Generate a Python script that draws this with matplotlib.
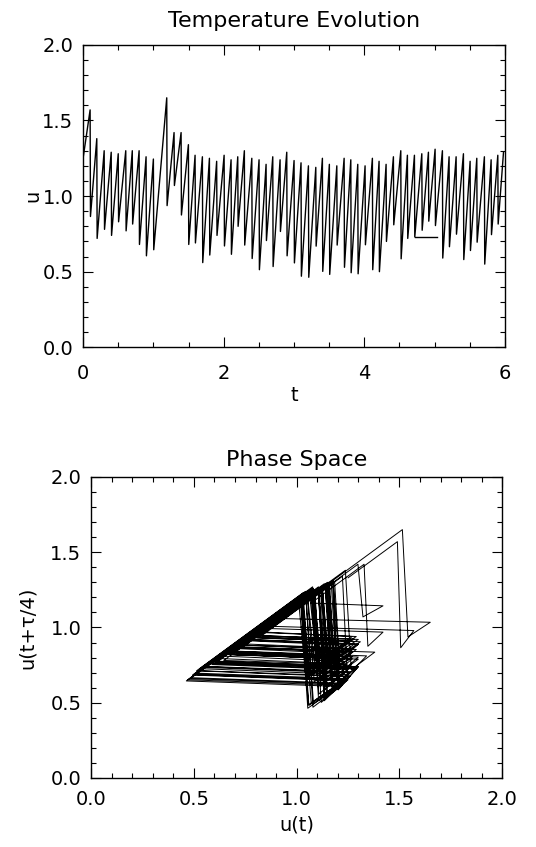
import numpy as np
import matplotlib.pyplot as plt
from matplotlib.ticker import MultipleLocator, FormatStrFormatter

# values
t_start, u_start = 0.0, 1.25
t_end, u_end = 5.98, 1.29

t_peak = [0.10, 0.195, 0.30, 0.40, 0.50, 0.607, 0.70, 0.797, 0.896, 1.00,
          1.19, 1.294, 1.394, 1.498, 1.593, 1.697, 1.797, 1.90, 2.006,
          2.105, 2.20, 2.294, 2.40, 2.503, 2.603, 2.698, 2.802, 2.897, 3.001,
          3.10, 3.205, 3.31, 3.404, 3.503, 3.609, 3.713, 3.808, 3.907, 4.011,
          4.115, 4.21, 4.31, 4.414, 4.519, 4.613, 4.713, 4.818, 4.912, 5.007,
          5.111, 5.206, 5.306, 5.41, 5.505, 5.60, 5.708, 5.804, 5.899]
u_peak = [1.57, 1.38, 1.30, 1.29, 1.28, 1.30, 1.30, 1.30, 1.26, 1.245,
          1.65, 1.42, 1.42, 1.34, 1.27, 1.26, 1.25, 1.23, 1.27,
          1.24, 1.26, 1.30, 1.25, 1.24, 1.21, 1.26, 1.24, 1.29, 1.235,
          1.22, 1.20, 1.19, 1.25, 1.21, 1.20, 1.25, 1.24, 1.21, 1.20,
          1.25, 1.23, 1.21, 1.26, 1.30, 1.27, 1.27, 1.28, 1.29, 1.31,
          1.30, 1.26, 1.26, 1.28, 1.23, 1.25, 1.26, 1.24, 1.27]
t_trough = [0.105, 0.20, 0.305, 0.405, 0.505, 0.612, 0.705, 0.802, 0.901, 1.005,
            1.195, 1.299, 1.399, 1.503, 1.598, 1.702, 1.802, 1.905, 2.011,
            2.11, 2.205, 2.299, 2.405, 2.508, 2.608, 2.703, 2.807, 2.902, 3.006,
            3.105, 3.21, 3.315, 3.409, 3.508, 3.614, 3.718, 3.813, 3.912, 4.016,
            4.12, 4.215, 4.315, 4.419, 4.524, 4.618, 4.718, 4.823, 4.917, 5.012,
            5.116, 5.211, 5.311, 5.415, 5.51, 5.605, 5.713, 5.809, 5.904]
u_trough = [0.865, 0.72, 0.78, 0.74, 0.83, 0.77, 0.815, 0.68, 0.605, 0.645,
            0.937, 1.07, 0.875, 0.68, 0.69, 0.56, 0.61, 0.74, 0.67,
            0.615, 0.80, 0.676, 0.587, 0.513, 0.706, 0.534, 0.766, 0.605, 0.558,
            0.47, 0.463, 0.669, 0.502, 0.482, 0.676, 0.529, 0.493, 0.486, 0.678,
            0.513, 0.50, 0.70, 0.81, 0.585, 0.72, 0.73, 0.774, 0.834, 0.805,
            0.59, 0.665, 0.748, 0.58, 0.64, 0.695, 0.55, 0.745, 0.815]

# the short flat stroke near t=5
glitch_t = [4.718, 5.03]
glitch_u = [0.73, 0.73]

lag = 0.025  # tau/4

# build the time series
t_series = [t_start]
u_series = [u_start]
for tp, up, tt, ut in zip(t_peak, u_peak, t_trough, u_trough):
    t_series += [tp, tt]
    u_series += [up, ut]
t_series.append(t_end)
u_series.append(u_end)
t_series = np.array(t_series)
u_series = np.array(u_series)

# phase space: u(t) against u(t+tau/4) of the same series
tb = np.union1d(t_series, t_series - lag)
tb = tb[(tb >= 0) & (tb + lag <= t_series[-1])]
ph_x = np.interp(tb, t_series, u_series)
ph_y = np.interp(tb + lag, t_series, u_series)

plt.rcParams['font.family'] = ['DejaVu Sans']

fig = plt.figure(figsize=(5.36, 8.47), dpi=100)
ax1 = fig.add_axes([0.155, 0.590, 0.787, 0.357])
ax2 = fig.add_axes([0.170, 0.0815, 0.767, 0.3554])

ax1.plot(t_series, u_series, color='black', lw=1.0)
ax1.plot(glitch_t, glitch_u, color='black', lw=1.0)
ax1.set_xlim(0, 6)
ax1.set_ylim(0, 2)
ax1.xaxis.set_major_locator(MultipleLocator(2))
ax1.xaxis.set_minor_locator(MultipleLocator(0.5))
ax1.yaxis.set_major_locator(MultipleLocator(0.5))
ax1.yaxis.set_minor_locator(MultipleLocator(0.1))
ax1.yaxis.set_major_formatter(FormatStrFormatter('%.1f'))
ax1.set_title('Temperature Evolution', fontsize=16, pad=13)
ax1.set_xlabel('t', fontsize=14, labelpad=2)
ax1.set_ylabel('u', fontsize=14, labelpad=0)

ax2.plot(ph_x, ph_y, color='black', lw=0.7)
ax2.set_xlim(0, 2)
ax2.set_ylim(0, 2)
for axis in (ax2.xaxis, ax2.yaxis):
    axis.set_major_locator(MultipleLocator(0.5))
    axis.set_minor_locator(MultipleLocator(0.1))
    axis.set_major_formatter(FormatStrFormatter('%.1f'))
ax2.set_title('Phase Space', fontsize=16, pad=8)
ax2.set_xlabel('u(t)', fontsize=14, labelpad=4)
ax2.set_ylabel('u(t+τ/4)', fontsize=14, labelpad=10)

for ax in (ax1, ax2):
    ax.tick_params(which='both', direction='in', top=True, right=True,
                   labelsize=14, width=0.8)
    ax.tick_params(which='major', length=7)
    ax.tick_params(which='minor', length=3.5)
    for s in ax.spines.values():
        s.set_linewidth(1.0)
ax1.tick_params(axis='x', pad=12)
ax1.tick_params(axis='y', pad=7)
ax2.tick_params(axis='x', pad=9)
ax2.tick_params(axis='y', pad=7)

fig.savefig('out.png', dpi=100)
